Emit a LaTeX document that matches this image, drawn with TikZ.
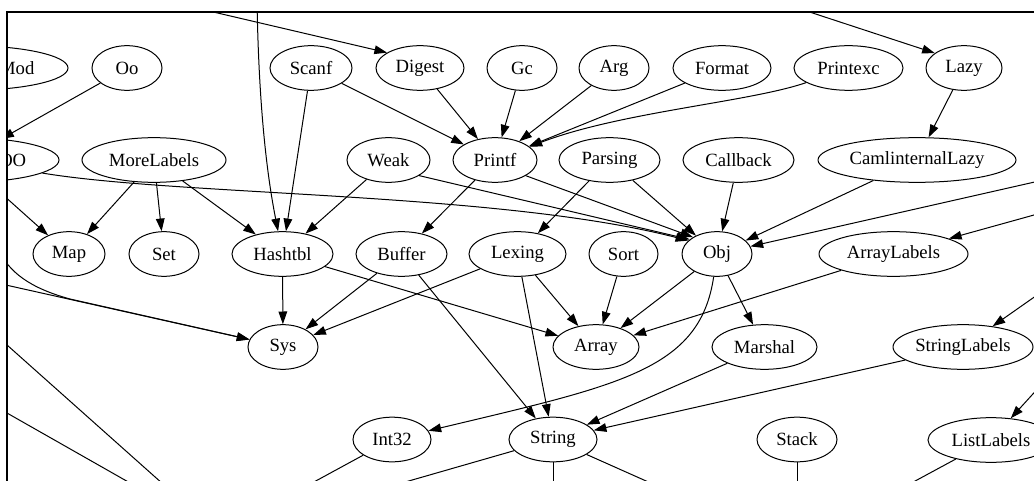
\documentclass[tikz,border=0pt]{standalone}
\usepackage{fontspec}
\setmainfont{Liberation Serif}
\usetikzlibrary{arrows.meta,shapes.geometric}
\begin{document}
\begin{tikzpicture}[x=0.75pt,y=-0.75pt,
  nd/.style={draw, ellipse, line width=0.75pt, inner sep=0pt, minimum height=33.5pt, font=\fontsize{14}{16}\selectfont},
  hw/.style={minimum width={#1*1.5pt}},
  e/.style={line width=0.75pt, -{Triangle[length=9.5pt,width=6.5pt]}},
  ee/.style={line width=0.75pt}]
\useasboundingbox (0,0) rectangle (1034,481);
\begin{scope}
\clip (7,12) rectangle (1034,481);
% row 1
\node[nd,hw=100] (Mod) at (-32,68) {CamlinternalMod};
\node[nd,hw=35] (Oo) at (127,68) {Oo};
\node[nd,hw=41] (Scanf) at (311,68) {Scanf};
\node[nd,hw=44] (Digest) at (420,68) {Digest};
\node[nd,hw=35] (Gc) at (522,68) {Gc};
\node[nd,hw=35] (Arg) at (614,68) {Arg};
\node[nd,hw=49] (Format) at (722,68) {Format};
\node[nd,hw=54.5] (Printexc) at (848.5,68) {Printexc};
\node[nd,hw=38] (Lazy) at (964,68) {Lazy};
% row 2
\node[nd,hw=95] (OO) at (-36,160) {CamlinternalOO};
\node[nd,hw=72] (MoreLabels) at (154,160) {MoreLabels};
\node[nd,hw=41.5] (Weak) at (388.5,160) {Weak};
\node[nd,hw=42] (Printf) at (495,160) {Printf};
\node[nd,hw=50.5] (Parsing) at (609.5,160) {Parsing};
\node[nd,hw=55.5] (Callback) at (738.5,160) {Callback};
\node[nd,hw=99] (CLazy) at (917,160) {CamlinternalLazy};
% row 3
\node[nd,hw=36] (Map) at (69,254) {Map};
\node[nd,hw=35] (Set) at (164,254) {Set};
\node[nd,hw=50.5] (Hashtbl) at (282.5,254) {Hashtbl};
\node[nd,hw=45.5] (Buffer) at (401.5,254) {Buffer};
\node[nd,hw=48.5] (Lexing) at (517.5,254) {Lexing};
\node[nd,hw=34.5] (Sort) at (623.5,254) {Sort};
\node[nd,hw=35] (Obj) at (717,254) {Obj};
\node[nd,hw=74.5] (ArrayLabels) at (893.5,254) {ArrayLabels};
% row 4
\node[nd,hw=35] (Sys) at (283,347) {Sys};
\node[nd,hw=43] (Array) at (596,347) {Array};
\node[nd,hw=52.5] (Marshal) at (764.5,347) {Marshal};
\node[nd,hw=70] (StringLabels) at (963,347) {StringLabels};
% row 5
\node[nd,hw=39] (Int32) at (392,439.5) {Int32};
\node[nd,hw=44] (String) at (553,439.5) {String};
\node[nd,hw=40] (Stack) at (797,439.5) {Stack};
\node[nd,hw=63] (ListLabels) at (991,440) {ListLabels};
% free ends
\coordinate (inT1) at (162,0);
\coordinate (inT2) at (257,0);
\coordinate (inT3) at (773,0);
\coordinate (inR1) at (1070,174);
\coordinate (inR2) at (1070,205);
\coordinate (inR3) at (1070,272);
\coordinate (inR4) at (1062,362);
\coordinate (inL1) at (-30,277);
\coordinate (inL2) at (-2,248);
\coordinate (inL3) at (-30,312);
\coordinate (outL3) at (200,517);
\coordinate (inL4) at (-30,392);
\coordinate (outL4) at (160,500);
\coordinate (outB1) at (290,495);
\coordinate (outB2) at (360,495);
\coordinate (outB3) at (553,500);
\coordinate (outB4) at (700,505);
\coordinate (outB5) at (797,500);
\coordinate (outB6) at (880,500);
% edges from above
\draw[e] (inT1) -- (Digest.155);
\draw[e] (inT2) .. controls (259,130) and (271,195) .. (Hashtbl);
\draw[e] (inT3) -- (Lazy.153);
% row1 -> row2
\draw[e] (Oo) -- (OO);
\draw[e] (Scanf) -- (Hashtbl);
\draw[e] (Scanf) -- (Printf);
\draw[e] (Digest) -- (Printf);
\draw[e] (Gc) -- (Printf);
\draw[e] (Arg) -- (Printf);
\draw[e] (Format) -- (Printf);
\draw[e] (Printexc) .. controls (750,102) and (620,112) .. (Printf);
\draw[e] (Lazy) -- (CLazy);
% row2 -> row3
\draw[e] (OO) -- (Map);
\draw[e] (MoreLabels) -- (Map);
\draw[e] (MoreLabels) -- (Set);
\draw[e] (MoreLabels) -- (Hashtbl);
\draw[e] (Weak) -- (Hashtbl);
\draw[e] (Weak.-27) -- (Obj.152);
\draw[e] (Printf.-27) -- (Obj.145);
\draw[e] (OO) .. controls (180,196) and (500,192) .. (Obj.155);
\draw[e] (Printf) -- (Buffer);
\draw[e] (Parsing) -- (Lexing);
\draw[e] (Parsing) -- (Obj);
\draw[e] (Callback) -- (Obj);
\draw[e] (CLazy) -- (Obj);
\draw[e] (inR1) -- (Obj);
\draw[e] (inR2) -- (ArrayLabels);
% row3 -> row4/5
\draw[e] (Hashtbl) -- (Sys);
\draw[e] (Hashtbl) -- (Array);
\draw[e] (Buffer) -- (Sys);
\draw[e] (Buffer) -- (String);
\draw[e] (Lexing) -- (Sys);
\draw[e] (Lexing) -- (Array);
\draw[e] (Lexing) -- (String);
\draw[e] (Sort) -- (Array);
\draw[e] (Obj) -- (Array);
\draw[e] (Obj) -- (Marshal);
\draw[e] (Obj) .. controls (700,370) and (620,385) .. (Int32);
\draw[e] (ArrayLabels) -- (Array);
\draw[e] (inL1) -- (Sys);
\draw[e] (inL2) .. controls (8,272) and (30,288) .. (70,299) -- (Sys);
\draw[e] (inR3) -- (StringLabels);
\draw[e] (inR4) -- (ListLabels);
\draw[e] (Marshal) -- (String);
\draw[e] (StringLabels) -- (String);
% leaving the picture
\draw[ee] (inL3) -- (outL3);
\draw[ee] (inL4) -- (outL4);
\draw[ee] (Int32) -- (outB1);
\draw[ee] (String) -- (outB2);
\draw[ee] (String) -- (outB3);
\draw[ee] (String) -- (outB4);
\draw[ee] (Stack) -- (outB5);
\draw[ee] (ListLabels) -- (outB6);
\end{scope}
\draw[line width=2pt] (7,490) -- (7,12) -- (1040,12);
\end{tikzpicture}
\end{document}
